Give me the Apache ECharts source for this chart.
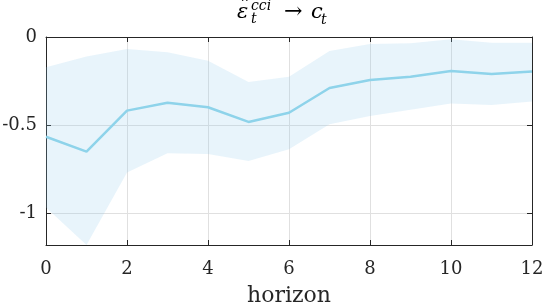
<!DOCTYPE html>
<html><head><meta charset="utf-8">
<script src="https://cdn.jsdelivr.net/npm/echarts@6/dist/echarts.min.js"></script>
<style>html,body{margin:0;padding:0;background:#fff}#c{width:545px;height:307px}</style>
</head><body><div id="c"></div>
<script>
var horizons = [0,1,2,3,4,5,6,7,8,9,10,11,12];
var irf   = [-0.565,-0.649,-0.417,-0.372,-0.398,-0.481,-0.429,-0.289,-0.243,-0.225,-0.193,-0.210,-0.196];
var upper = [-0.172,-0.111,-0.068,-0.087,-0.134,-0.255,-0.225,-0.079,-0.040,-0.036,-0.013,-0.032,-0.032];
var lower = [-0.965,-1.178,-0.768,-0.659,-0.662,-0.702,-0.636,-0.494,-0.447,-0.412,-0.376,-0.385,-0.366];
var yTicks = [-1,-0.5,0];
var yLabels = {'-1':'-1','-0.5':'-0.5','0':'0'};

var FONT = 'DejaVu Serif';
var axisCol = '#262626';
var gridCol = '#e0e0e0';
var lineCol = '#8ed3ea';
var bandCol = 'rgba(140,200,235,0.2)';

var chart = echarts.init(document.getElementById('c'), null, {renderer:'canvas'});
var pairs = function(arr){ return horizons.map(function(h,i){return [h, arr[i]];}); };
var bandData = horizons.map(function(h,i){ return [h, lower[i], upper[i]]; });

var tickStyle = {show:true, inside:true, length:5, lineStyle:{color:axisCol, width:1}};
var lineStyleAx = {show:true, onZero:false, lineStyle:{color:axisCol, width:1}};
chart.setOption({
  animation:false,
  grid:{left:46, right:13, top:37, bottom:62, containLabel:false, outerBoundsMode:'none'},
  xAxis:[
    {type:'value', min:0, max:12, interval:2, position:'bottom',
      name:'horizon', nameLocation:'middle', nameGap:40,
      nameTextStyle:{fontFamily:FONT, fontSize:22, color:axisCol},
      axisLine:lineStyleAx, axisTick:tickStyle,
      axisLabel:{fontFamily:FONT, fontSize:18, color:axisCol, margin:15},
      splitLine:{show:true, lineStyle:{color:gridCol, width:1}}},
    {type:'value', min:0, max:12, interval:2, position:'top',
      axisLine:lineStyleAx, axisTick:tickStyle,
      axisLabel:{show:false}, splitLine:{show:false}}
  ],
  yAxis:[
    {type:'value', min:-1.178, max:0, position:'left',
      axisLine:lineStyleAx,
      axisTick:Object.assign({customValues:yTicks}, tickStyle),
      axisLabel:{fontFamily:FONT, fontSize:18, color:axisCol, margin:9, customValues:yTicks,
        formatter:function(v){ var s = yLabels[String(v)]; return s === undefined ? '' : s; }},
      splitLine:{show:true, lineStyle:{color:gridCol, width:1}}},
    {type:'value', min:-1.178, max:0, position:'right',
      axisLine:lineStyleAx,
      axisTick:Object.assign({customValues:yTicks}, tickStyle),
      axisLabel:{show:false}, splitLine:{show:false}}
  ],
  series:[
    {type:'custom', data:bandData, encode:{x:0, y:[1,2]}, silent:true, z:1,
      renderItem:function(params, api){
        if (params.dataIndex !== 0) return null;
        var pts = [];
        for (var i = 0; i < horizons.length; i++) pts.push(api.coord([horizons[i], upper[i]]));
        for (var j = horizons.length - 1; j >= 0; j--) pts.push(api.coord([horizons[j], lower[j]]));
        return {type:'polygon', shape:{points:pts}, style:{fill:bandCol, stroke:null}};
      }},
    {type:'line', data:pairs(irf), symbol:'none', lineStyle:{color:lineCol, width:2.5}, z:3}
  ],
  graphic:[
    {type:'text', x:240, y:-1, style:{text:'ˆ', font:'19px "'+FONT+'"', fill:'#000'}},
    {type:'text', x:237, y:2, style:{text:'ε', font:'italic 21px "'+FONT+'"', fill:'#000'}},
    {type:'text', x:251, y:-1, style:{text:'cci', font:'italic 14px "'+FONT+'"', fill:'#000'}},
    {type:'text', x:251, y:12, style:{text:'t', font:'italic 14px "'+FONT+'"', fill:'#000'}},
    {type:'text', x:284, y:1, style:{text:'→', font:'22px "'+FONT+'"', fill:'#000'}},
    {type:'text', x:311, y:2, style:{text:'c', font:'italic 21px "'+FONT+'"', fill:'#000'}},
    {type:'text', x:321, y:13, style:{text:'t', font:'italic 14px "'+FONT+'"', fill:'#000'}}
  ]
});
</script></body></html>
